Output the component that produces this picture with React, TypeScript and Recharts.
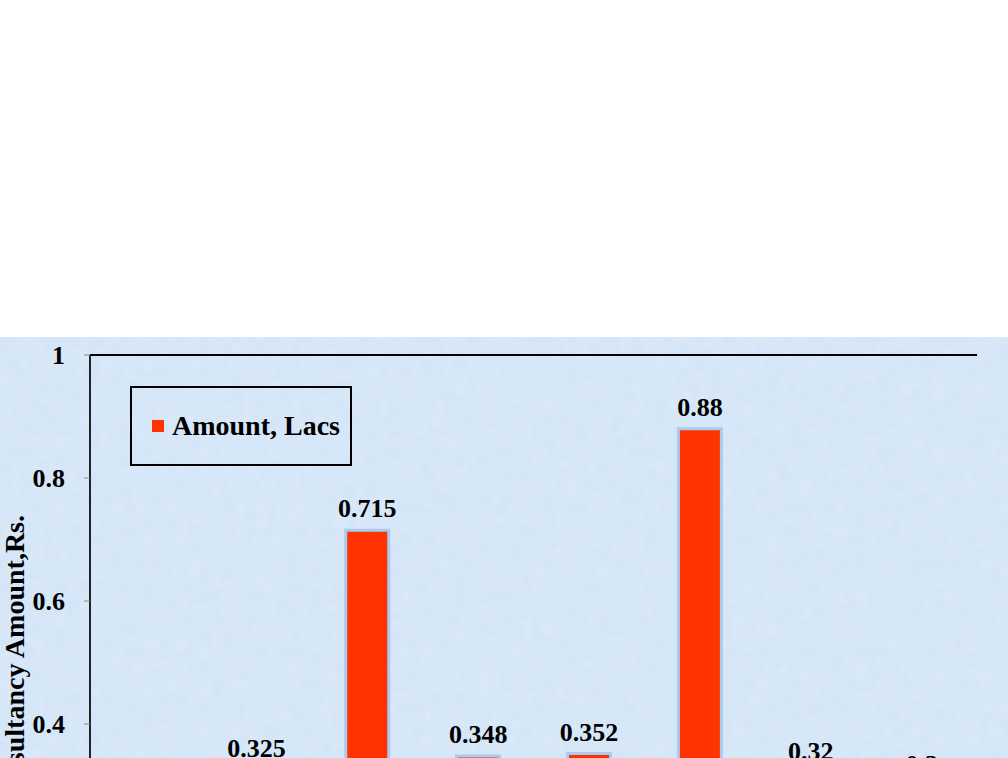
import React from 'react'
import { BarChart, Bar, XAxis, YAxis, LabelList, Legend, ReferenceLine, Label } from 'recharts'

const categories = ['1', '2', '3', '4', '5', '6', '7', '8']
const amounts = [0.2, 0.325, 0.715, 0.348, 0.352, 0.88, 0.32, 0.3]
const yTicks = [0, 0.2, 0.4, 0.6, 0.8, 1]

const data = categories.map((c, i) => ({ name: c, amount: amounts[i] }))

const FONT = '"Liberation Serif", "Times New Roman", serif'

function LegendBox() {
  return (
    <div
      style={{
        width: 222,
        height: 80,
        border: '2px solid #000',
        display: 'flex',
        alignItems: 'center',
        paddingLeft: 20,
        boxSizing: 'border-box',
        fontFamily: FONT,
        fontWeight: 'bold',
        fontSize: 28,
        color: '#000',
        whiteSpace: 'nowrap',
      }}
    >
      <span style={{ width: 12, height: 12, background: '#ff3300', marginRight: 8, display: 'inline-block' }} />
      Amount, Lacs
    </div>
  )
}

function AxisTitle() {
  return (
    <text
      x={24}
      y={515}
      transform="rotate(-90 24 515)"
      textAnchor="end"
      fontFamily={FONT}
      fontWeight="bold"
      fontSize={28}
      fill="#000"
    >
      Consultancy Amount,Rs.
    </text>
  )
}

// light paper-like texture behind the chart
function Texture() {
  return (
    <svg width={1008} height={421} style={{ position: 'absolute', left: 0, top: 337 }}>
      <filter id="paper">
        <feTurbulence type="fractalNoise" baseFrequency="0.09" numOctaves={3} seed={4} />
        <feColorMatrix type="matrix" values="0 0 0 0 1  0 0 0 0 1  0 0 0 0 1  0 0 0 0.5 -0.12" />
      </filter>
      <rect width={1008} height={421} fill="#d3e5f7" />
      <rect width={1008} height={421} filter="url(#paper)" opacity={0.55} />
    </svg>
  )
}

export default function App() {
  return (
    <div style={{ position: 'absolute', left: 0, top: 0, width: 1008, height: 758, overflow: 'hidden', background: '#fff' }}>
      <Texture />
      <div style={{ position: 'absolute', left: 0, top: 0 }}>
        <BarChart
          width={1008}
          height={1000}
          data={data}
          margin={{ top: 355, right: 31, bottom: 30, left: 0 }}
          barSize={43}
        >
          <XAxis dataKey="name" hide />
          <YAxis
            yAxisId="left"
            width={90}
            domain={[0, 1]}
            ticks={yTicks}
            tickFormatter={(v: number) => String(v)}
            axisLine={{ stroke: '#222', strokeWidth: 2 }}
            tickLine={{ stroke: '#888' }}
            tickSize={6}
            tickMargin={19}
            tick={{ fill: '#000', fontSize: 26, fontWeight: 'bold', fontFamily: FONT }}
          >
            <Label content={AxisTitle} />
          </YAxis>
          <YAxis
            yAxisId="right"
            orientation="right"
            width={0}
            domain={[0, 1]}
            tick={false}
            tickLine={false}
            axisLine={{ stroke: '#000', strokeWidth: 2 }}
          />
          <ReferenceLine yAxisId="left" y={1} stroke="#000" strokeWidth={2} />
          <Legend
            layout="horizontal"
            verticalAlign="middle"
            align="center"
            content={() => <LegendBox />}
            wrapperStyle={{ position: 'absolute', left: 130, top: 386, width: 'auto' }}
          />
          <Bar
            yAxisId="left"
            dataKey="amount"
            fill="#ff3300"
            stroke="#a9cbef"
            strokeWidth={3}
            isAnimationActive={false}
          >
            <LabelList
              dataKey="amount"
              position="top"
              offset={13}
              fill="#000"
              fontSize={26}
              fontWeight="bold"
              fontFamily={FONT}
            />
          </Bar>
        </BarChart>
      </div>
    </div>
  )
}
